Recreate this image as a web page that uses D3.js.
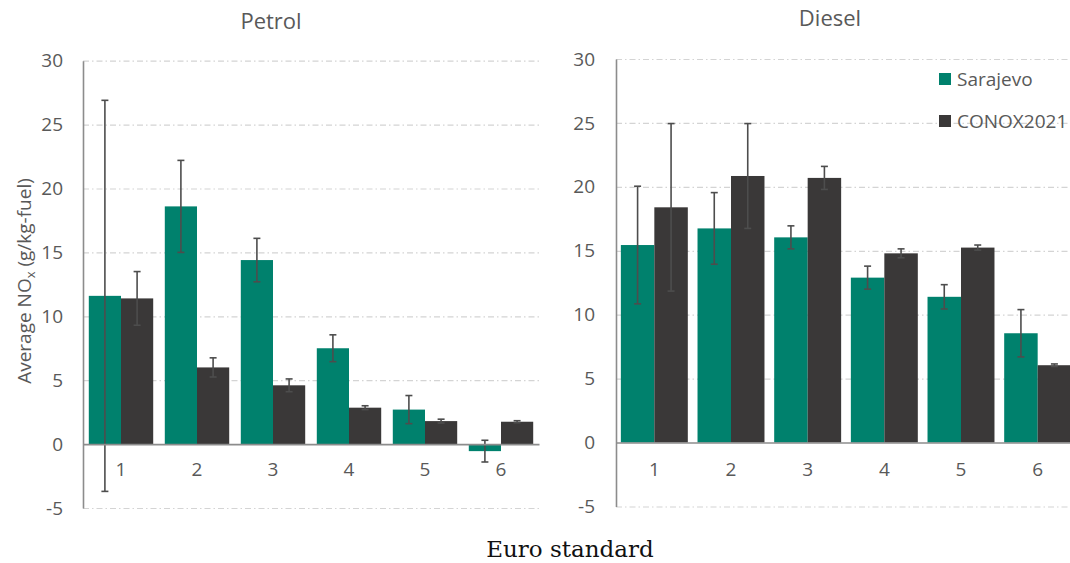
<!DOCTYPE html>
<html>
<head>
<meta charset="utf-8">
<script src="https://cdn.jsdelivr.net/npm/d3@7"></script>
<style>
  html, body { margin: 0; padding: 0; background: #fff; overflow: hidden; }
  svg { display: block; font-family: "Open Sans", "Noto Sans", sans-serif; }
</style>
</head>
<body>
<svg id="chart" width="1070" height="563"></svg>
<script>
// Euro standard categories
const categories = ["1", "2", "3", "4", "5", "6"];
const seriesNames = ["Sarajevo", "CONOX2021"];
const yTicks = [-5, 0, 5, 10, 15, 20, 25, 30];

// Petrol: mean NOx (g/kg-fuel) and error half-widths
const petrolSarajevo    = [11.6, 18.6, 14.4, 7.5, 2.7, -0.55];
const petrolSarajevoErr = [15.3, 3.6, 1.7, 1.05, 1.1, 0.85];
const petrolConox       = [11.4, 6.0, 4.6, 2.85, 1.8, 1.75];
const petrolConoxErr    = [2.1, 0.75, 0.5, 0.15, 0.15, 0.08];

// Diesel: mean NOx (g/kg-fuel) and error half-widths
const dieselSarajevo    = [15.45, 16.75, 16.05, 12.9, 11.4, 8.55];
const dieselSarajevoErr = [4.6, 2.8, 0.9, 0.9, 0.95, 1.85];
const dieselConox       = [18.4, 20.85, 20.7, 14.8, 15.25, 6.05];
const dieselConoxErr    = [6.55, 4.1, 0.9, 0.35, 0.2, 0.1];

const colors = { "Sarajevo": "#00816d", "CONOX2021": "#3a3838" };
const textColor = "#595959";
const axisColor = "#8c8c8c";
const gridColor = "#d4d4d4";
const errColor = "#4d4d4d";

const svg = d3.select("#chart");

function rows(vals1, errs1, vals2, errs2) {
  return categories.map((c, i) => ({
    cat: c,
    series: [
      { name: seriesNames[0], value: vals1[i], err: errs1[i] },
      { name: seriesNames[1], value: vals2[i], err: errs2[i] }
    ]
  }));
}

function drawPanel(opts) {
  const { title, data, x0, x1, gridEnd, yTop, yBottom, titleX, titleY,
          labelPad, catPad, barPad } = opts;

  const y = d3.scaleLinear().domain([-5, 30]).range([yBottom, yTop]);
  const x = d3.scaleBand().domain(categories).range([x0, x1]).padding(0);
  const xs = d3.scaleBand().domain(seriesNames).range([0, x.bandwidth()])
    .paddingInner(0).paddingOuter(barPad);

  const g = svg.append("g");

  // dash-dot gridlines
  const grid = g.append("g")
    .attr("transform", `translate(${x0},0)`)
    .call(d3.axisLeft(y).tickValues(yTicks.filter(v => v !== 0))
      .tickSize(-(gridEnd - x0)).tickFormat(""));
  grid.select(".domain").remove();
  grid.selectAll("line")
    .attr("stroke", gridColor)
    .attr("stroke-width", 1.2)
    .attr("stroke-dasharray", "6,3,1.5,3");

  // bars
  const groups = g.append("g").selectAll("g")
    .data(data).join("g")
    .attr("transform", d => `translate(${x(d.cat)},0)`);

  groups.selectAll("rect")
    .data(d => d.series).join("rect")
    .attr("x", d => xs(d.name))
    .attr("width", xs.bandwidth())
    .attr("y", d => y(Math.max(0, d.value)))
    .attr("height", d => Math.abs(y(d.value) - y(0)))
    .attr("fill", d => colors[d.name]);

  // error bars
  const eb = groups.selectAll("g.err")
    .data(d => d.series).join("g")
    .attr("class", "err")
    .attr("transform", d => `translate(${xs(d.name) + xs.bandwidth() / 2},0)`);
  eb.append("line")
    .attr("y1", d => y(d.value + d.err))
    .attr("y2", d => y(d.value - d.err))
    .attr("stroke", errColor).attr("stroke-width", 1.6);
  eb.selectAll("line.cap")
    .data(d => [d.value + d.err, d.value - d.err]).join("line")
    .attr("class", "cap")
    .attr("x1", -3.5).attr("x2", 3.5)
    .attr("y1", v => y(v)).attr("y2", v => y(v))
    .attr("stroke", errColor).attr("stroke-width", 1.6);

  // category axis along zero
  const xAxis = g.append("g")
    .attr("transform", `translate(0,${y(0)})`)
    .call(d3.axisBottom(x).tickSize(0).tickPadding(catPad));
  xAxis.select(".domain").attr("stroke", axisColor).attr("stroke-width", 1.6);
  xAxis.selectAll("text")
    .attr("fill", textColor).attr("font-size", 19)
    .attr("font-family", '"Open Sans", sans-serif');

  // value axis
  const yAxis = g.append("g")
    .attr("transform", `translate(${x0},0)`)
    .call(d3.axisLeft(y).tickValues(yTicks).tickSize(0).tickPadding(labelPad)
      .tickFormat(d => String(d).replace("\u2212", "-")));
  yAxis.select(".domain").attr("stroke", axisColor).attr("stroke-width", 1.6);
  yAxis.selectAll("text")
    .attr("fill", textColor).attr("font-size", 19)
    .attr("font-family", '"Open Sans", sans-serif');

  // panel title
  svg.append("text")
    .attr("x", titleX).attr("y", titleY)
    .attr("text-anchor", "middle")
    .attr("fill", textColor)
    .attr("font-size", 22)
    .text(title);

  return { x, y };
}

drawPanel({
  title: "Petrol",
  data: rows(petrolSarajevo, petrolSarajevoErr, petrolConox, petrolConoxErr),
  x0: 83, x1: 539, gridEnd: 542, yTop: 60.7, yBottom: 508,
  titleX: 271, titleY: 29, labelPad: 20, catPad: 18, barPad: 0.18
});

drawPanel({
  title: "Diesel",
  data: rows(dieselSarajevo, dieselSarajevoErr, dieselConox, dieselConoxErr),
  x0: 616, x1: 1076, gridEnd: 1076, yTop: 59, yBottom: 506.5,
  titleX: 830, titleY: 26, labelPad: 21, catPad: 20, barPad: 0.145
});

// legend
const legend = svg.append("g").attr("transform", "translate(939,73)");
seriesNames.forEach((name, i) => {
  const row = legend.append("g").attr("transform", `translate(0,${i * 42})`);
  row.append("rect").attr("width", 12).attr("height", 12).attr("fill", colors[name]);
  row.append("text")
    .attr("x", 18).attr("y", 13)
    .attr("fill", textColor).attr("font-size", 19)
    .text(name);
});

// shared y-axis label
const yLabel = svg.append("text")
  .attr("transform", "translate(31,281) rotate(-90)")
  .attr("text-anchor", "middle")
  .attr("fill", textColor)
  .attr("font-size", 19);
yLabel.append("tspan").text("Average NO");
yLabel.append("tspan").attr("font-size", 13).attr("dy", 4).text("x");
yLabel.append("tspan").attr("dy", -4).text(" (g/kg-fuel)");

// shared x-axis label
svg.append("text")
  .attr("x", 570).attr("y", 557)
  .attr("text-anchor", "middle")
  .attr("fill", "#111")
  .attr("font-family", '"DejaVu Serif", "Liberation Serif", serif')
  .attr("font-size", 23)
  .text("Euro standard");
</script>
</body>
</html>
